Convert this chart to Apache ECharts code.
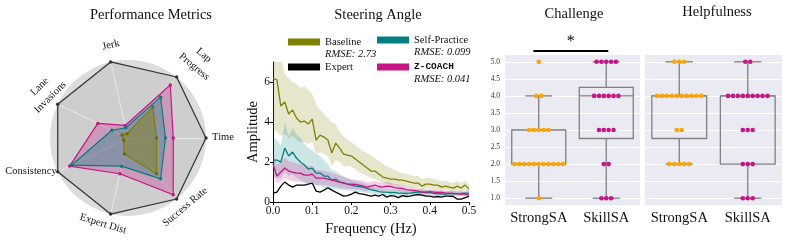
<!DOCTYPE html>
<html><head><meta charset="utf-8">
<script src="https://cdn.jsdelivr.net/npm/echarts@6/dist/echarts.min.js"></script>
<style>html,body{margin:0;padding:0;background:#fff}#c{width:789px;height:242px}</style>
</head><body><div id="c"></div>
<script>
// ---------- Radar data ----------
const radarAxes = ['Time','Lap Progress','Jerk','Lane Invasions','Consistency','Expert Dist','Success Rate'];
const radarOutline = [1,1,1,1,1,1,1];
const radarZcoach = [0.58,0.87,0.165,0.43,0.83,0.47,0.93];
const radarSelf   = [0.48,0.67,0.135,0.23,0.80,0.37,0.67];
const radarBase   = [0.365,0.51,0.056,0.085,0.063,0.21,0.585];

// ---------- Steering angle spectrum ----------
const freq = [0,0.01,0.02,0.03,0.04,0.05,0.06,0.07,0.08,0.09,0.1,0.11,0.12,0.13,0.14,0.15,0.16,0.17,0.18,0.19,0.2,0.21,0.22,0.23,0.24,0.25,0.26,0.27,0.28,0.29,0.3,0.31,0.32,0.33,0.34,0.35,0.36,0.37,0.38,0.39,0.4,0.41,0.42,0.43,0.44,0.45,0.46,0.47,0.48,0.49,0.5];
const baseMean = [6.2,6.1,4.8,5.0,4.4,4.6,4.2,4.0,4.05,3.9,4.15,3.1,3.35,3.25,3.1,2.45,2.95,2.7,2.4,2.35,2.3,2.15,2.0,1.85,1.7,1.55,1.55,1.4,1.25,1.2,1.15,1.15,1.1,1.1,1.05,1.0,0.95,0.95,0.8,0.9,0.9,0.85,0.85,0.75,0.8,0.75,0.7,0.8,0.7,0.85,0.65];
const baseHi = [7.8,7.5,7.2,6.4,6.2,6.0,5.9,5.7,5.8,5.6,5.4,4.9,4.6,4.4,4.2,4.0,3.9,3.5,3.3,3.1,3.0,2.85,2.7,2.55,2.45,2.3,2.2,2.05,1.9,1.8,1.7,1.6,1.5,1.45,1.4,1.35,1.3,1.3,1.15,1.2,1.2,1.15,1.1,1.05,1.05,1.0,0.95,1.05,0.95,1.05,0.9];
const baseLo = [3.6,3.5,3.3,3.4,3.2,3.3,3.1,3.0,3.0,2.9,3.0,2.4,2.5,2.4,2.3,1.8,2.1,2.0,1.8,1.8,1.75,1.65,1.5,1.4,1.3,1.2,1.15,1.05,0.95,0.9,0.85,0.85,0.8,0.8,0.78,0.75,0.7,0.7,0.6,0.68,0.68,0.62,0.62,0.55,0.6,0.55,0.5,0.58,0.5,0.62,0.45];
const selfMean = [2.1,2.1,2.0,2.7,2.3,2.5,2.2,2.0,1.85,1.65,1.7,1.45,1.45,1.3,1.3,1.1,1.15,1.0,0.97,0.9,0.85,0.8,0.78,0.75,0.68,0.62,0.58,0.52,0.5,0.5,0.48,0.48,0.45,0.45,0.43,0.45,0.48,0.5,0.5,0.48,0.48,0.43,0.42,0.4,0.4,0.42,0.43,0.42,0.43,0.45,0.45];
const selfHi = [3.2,3.1,2.8,4.0,3.3,3.7,3.4,3.2,2.9,2.7,2.6,2.4,2.3,2.1,1.9,1.6,1.55,1.4,1.3,1.2,1.1,1.05,1.0,0.95,0.88,0.8,0.75,0.7,0.68,0.66,0.64,0.62,0.6,0.6,0.58,0.6,0.62,0.64,0.64,0.62,0.62,0.57,0.56,0.54,0.54,0.55,0.56,0.55,0.56,0.58,0.58];
const selfLo = [1.3,1.2,1.2,1.5,1.3,1.4,1.2,1.1,1.0,0.9,0.95,0.8,0.8,0.7,0.72,0.6,0.65,0.6,0.6,0.58,0.55,0.5,0.5,0.5,0.45,0.42,0.4,0.36,0.34,0.34,0.33,0.33,0.31,0.31,0.3,0.31,0.34,0.36,0.36,0.34,0.34,0.3,0.29,0.27,0.27,0.29,0.3,0.29,0.3,0.32,0.32];
const zMean = [1.9,1.3,1.5,1.7,1.55,1.5,1.45,1.45,1.35,1.35,1.4,1.2,1.2,1.2,1.15,1.1,1.05,1.0,0.95,0.9,0.9,0.88,0.85,0.8,0.75,0.8,0.85,0.78,0.75,0.8,0.78,0.72,0.7,0.68,0.62,0.6,0.58,0.55,0.5,0.5,0.52,0.5,0.48,0.48,0.45,0.45,0.42,0.42,0.4,0.4,0.35];
const zHi = [2.4,1.85,2.0,2.2,2.05,2.0,1.95,1.9,1.8,1.8,1.8,1.6,1.6,1.55,1.5,1.45,1.4,1.3,1.25,1.2,1.15,1.12,1.1,1.05,1.0,1.02,1.05,1.0,0.95,1.0,0.97,0.9,0.88,0.84,0.78,0.75,0.72,0.68,0.63,0.62,0.64,0.62,0.6,0.59,0.56,0.56,0.53,0.53,0.5,0.5,0.45];
const zLo = [1.4,0.9,1.05,1.2,1.1,1.05,1.0,1.0,0.95,0.95,1.0,0.85,0.85,0.85,0.82,0.78,0.75,0.72,0.68,0.65,0.65,0.64,0.62,0.58,0.54,0.6,0.65,0.58,0.56,0.6,0.59,0.54,0.52,0.52,0.47,0.46,0.44,0.42,0.38,0.38,0.4,0.38,0.37,0.37,0.34,0.34,0.32,0.32,0.3,0.3,0.26];
const expertMean = [0.45,0.5,0.8,1.0,0.85,0.75,0.85,0.85,0.85,0.9,0.95,0.55,0.5,0.6,0.72,0.6,0.5,0.4,0.3,0.32,0.4,0.5,0.42,0.4,0.35,0.3,0.35,0.3,0.38,0.25,0.32,0.3,0.22,0.32,0.28,0.3,0.35,0.38,0.35,0.3,0.3,0.25,0.28,0.25,0.3,0.3,0.28,0.15,0.15,0.22,0.28];
const rmse = {'Baseline':'2.73','Self-Practice':'0.099','Z-COACH':'0.041'};
const xTicks = [0,0.1,0.2,0.3,0.4,0.5];
const yTicks = [0,2,4,6];

// ---------- Survey ratings ----------
const groups = ['StrongSA','SkillSA'];
const challengeStrong = [5,4,4,3,3,3,3,3,2,2,2,2,2,2,2,2,2,2,2,1];
const challengeSkill  = [5,5,5,5,5,4,4,4,4,4,4,3,3,3,3,2,2,1,1,1];
const helpStrong = [5,5,5,4,4,4,4,4,4,4,4,4,4,3,3,2,2,2,2,2];
const helpSkill  = [5,5,4,4,4,4,4,4,4,4,4,3,3,3,2,2,2,1,1,1];
// box stats: [whisker low, Q1, median, Q3, whisker high]
const challengeBox = [[1,2,2,3,4],[1,2.75,4,4.25,5]];
const helpBox = [[2,2.75,4,4,5],[1,2,4,4,5]];
const ratingTicks = [1,1.5,2,2.5,3,3.5,4,4.5,5];

// ---------- styling ----------
const SERIF = "'Liberation Serif','DejaVu Serif',serif";
const OLIVE = '#808000', TEAL = '#008080', PINK = '#C71585', ORANGE = '#FFA500';
const TXT = '#111';

function bandSeries(lo, hi, color) {
  return {type:'custom', xAxisIndex:0, yAxisIndex:0, clip:true, silent:true, z:1,
    data: freq.map((f,i)=>[f, lo[i], hi[i]]),
    encode:{x:0, y:[1,2]},
    renderItem:(params, api)=>{
      if (params.dataIndex !== 0) return null;
      const pts=[];
      for (let i=0;i<freq.length;i++) pts.push(api.coord([freq[i], hi[i]]));
      for (let i=freq.length-1;i>=0;i--) pts.push(api.coord([freq[i], lo[i]]));
      return {type:'polygon', shape:{points:pts}, style:{fill:color}};
    }};
}
function lineSeries(name, arr, color) {
  return {type:'line', name, xAxisIndex:0, yAxisIndex:0, z:3, showSymbol:false, symbol:'none', silent:true,
    data: freq.map((f,i)=>[f, arr[i]]), lineStyle:{color, width:1.3}, itemStyle:{color}};
}
function boxSeries(xi, yi, stats) {
  return {type:'custom', xAxisIndex:xi, yAxisIndex:yi, clip:false, silent:true, z:2,
    data: stats.map((s,i)=>[i].concat(s)),
    encode:{x:0, y:[1,2,3,4,5]},
    renderItem:(params, api)=>{
      const x = api.value(0);
      const p = k => api.coord([x, api.value(k)]);
      const lo=p(1), q1=p(2), med=p(3), q3=p(4), hi=p(5);
      const bw = api.size([0.8,0])[0], cw = bw/2;
      const st = {stroke:'#808080', lineWidth:1.3, fill:null};
      return {type:'group', children:[
        {type:'rect', shape:{x:q1[0]-bw/2, y:q3[1], width:bw, height:q1[1]-q3[1]}, style:st},
        {type:'line', shape:{x1:med[0]-bw/2, y1:med[1], x2:med[0]+bw/2, y2:med[1]}, style:st},
        {type:'line', shape:{x1:lo[0], y1:lo[1], x2:q1[0], y2:q1[1]}, style:st},
        {type:'line', shape:{x1:q3[0], y1:q3[1], x2:hi[0], y2:hi[1]}, style:st},
        {type:'line', shape:{x1:lo[0]-cw/2, y1:lo[1], x2:lo[0]+cw/2, y2:lo[1]}, style:st},
        {type:'line', shape:{x1:hi[0]-cw/2, y1:hi[1], x2:hi[0]+cw/2, y2:hi[1]}, style:st}
      ]};
    }};
}
function swarm(values, idx) {
  const counts = {};
  values.forEach(v=>{counts[v]=(counts[v]||0)+1;});
  const out=[];
  Object.keys(counts).forEach(k=>{
    const n=counts[k];
    for (let j=0;j<n;j++) out.push([idx + (j-(n-1)/2)*0.072, Number(k)]);
  });
  return out;
}
function scatterSeries(xi, yi, values, idx, color) {
  return {type:'scatter', xAxisIndex:xi, yAxisIndex:yi, z:4, silent:true, symbolSize:4.6,
    data: swarm(values, idx), itemStyle:{color, opacity:1}};
}

const legendBase = {orient:'vertical', padding:0, itemWidth:32, itemHeight:7, icon:'rect', selectedMode:false,
  textStyle:{fontFamily:SERIF, fontSize:10.5, color:TXT, lineHeight:12,
    rich:{r:{fontFamily:SERIF, fontStyle:'italic', fontSize:10.5, lineHeight:12, color:TXT},
          z:{fontFamily:"'Liberation Mono','DejaVu Sans Mono',monospace", fontWeight:'bold', fontSize:9.5, lineHeight:12, color:TXT}}},
  formatter: name => {
    const head = name === 'Z-COACH' ? '{z|Z-COACH}' : name;
    return rmse[name] ? head + '\n{r|RMSE: ' + rmse[name] + '}' : head;
  }};
function legendAt(name, left, top, twoLine) {
  const l = JSON.parse(JSON.stringify(legendBase));
  l.formatter = legendBase.formatter;
  l.data = [name]; l.left = left; l.top = top;
  if (twoLine) l.textStyle.padding = [12,0,0,0];
  return l;
}

const boxY = (show) => ({min:0.8, max:5.2, type:'value',
  axisLine:{show:false}, axisTick:{show:false, customValues:ratingTicks},
  axisLabel:{show, customValues:ratingTicks, formatter:v=>v.toFixed(1), fontFamily:SERIF, fontSize:7.5, color:'#333', margin:5},
  splitLine:{show:true, lineStyle:{color:'#ffffff', width:1}}});
const catX = (gi) => ({type:'category', gridIndex:gi, data:groups, axisLine:{show:false}, axisTick:{show:false},
  axisLabel:{interval:0, hideOverlap:false, fontFamily:SERIF, fontSize:14.5, color:TXT, margin:6}});
const valX = (gi) => ({type:'value', gridIndex:gi, min:-0.5, max:1.5, show:false});

const option = {
  animation:false,
  backgroundColor:'#ffffff',
  title:[
    {text:'Performance Metrics', left:146, top:3, textAlign:'center', textStyle:{fontFamily:SERIF, fontSize:14.5, fontWeight:'normal', color:TXT}},
    {text:'Steering Angle', left:373, top:3, textAlign:'center', textStyle:{fontFamily:SERIF, fontSize:14.5, fontWeight:'normal', color:TXT}},
    {text:'Challenge', left:569, top:2, textAlign:'center', textStyle:{fontFamily:SERIF, fontSize:14.5, fontWeight:'normal', color:TXT}},
    {text:'Helpfulness', left:712, top:0, textAlign:'center', textStyle:{fontFamily:SERIF, fontSize:14.5, fontWeight:'normal', color:TXT}}
  ],
  legend:[
    legendAt('Baseline', 288, 24, true),
    legendAt('Expert', 288, 61, false),
    legendAt('Self-Practice', 377, 22, true),
    legendAt('Z-COACH', 377, 49, true)
  ],
  radar:{center:[128,138], radius:78, startAngle:0, splitNumber:1, shape:'circle',
    indicator: radarAxes.map(n=>({name:n, min:0, max:1})),
    axisName:{show:false},
    axisLine:{lineStyle:{color:'#f7f7f7', width:1}},
    splitLine:{show:false},
    splitArea:{show:true, areaStyle:{color:['#dcdcdc']}}},
  grid:[
    {left:273, top:62, width:196, height:145},
    {left:505, top:55, width:135, height:150, show:true, backgroundColor:'#eaeaf2', borderWidth:0},
    {left:645, top:55, width:137, height:150, show:true, backgroundColor:'#eaeaf2', borderWidth:0}
  ],
  xAxis:[
    {type:'value', gridIndex:0, min:0, max:0.5, interval:0.1,
      axisLine:{lineStyle:{color:'#000', width:1}}, axisTick:{length:3, lineStyle:{color:'#000'}},
      axisLabel:{formatter:v=>v.toFixed(1), fontFamily:SERIF, fontSize:11.5, color:TXT, margin:3},
      splitLine:{show:false},
      name:'Frequency (Hz)', nameLocation:'middle', nameGap:15, nameTextStyle:{fontFamily:SERIF, fontSize:14.5, color:TXT}},
    catX(1), valX(1), catX(2), valX(2)
  ],
  yAxis:[
    {type:'value', gridIndex:0, min:0, max:7,
      axisLine:{show:true, lineStyle:{color:'#000', width:1}}, axisTick:{show:true, length:3, customValues:yTicks, lineStyle:{color:'#000'}},
      axisLabel:{customValues:yTicks, fontFamily:SERIF, fontSize:11.5, color:TXT, margin:3},
      splitLine:{show:false},
      name:'Amplitude', nameLocation:'middle', nameGap:9, nameTextStyle:{fontFamily:SERIF, fontSize:14.5, color:TXT}},
    Object.assign(boxY(true), {gridIndex:1}),
    Object.assign(boxY(false), {gridIndex:2})
  ],
  graphic:[
    {type:'text', x:223, y:137, rotation:0, style:{text:'Time'}},
    {type:'text', x:199, y:61, rotation:-40*Math.PI/180, style:{text:'Lap\nProgress'}},
    {type:'text', x:111, y:45, rotation:13*Math.PI/180, style:{text:'Jerk'}},
    {type:'text', x:45, y:92, rotation:45*Math.PI/180, style:{text:'Lane\nInvasions'}},
    {type:'text', x:31, y:171, rotation:0, style:{text:'Consistency'}},
    {type:'text', x:103, y:224, rotation:-17*Math.PI/180, style:{text:'Expert Dist'}},
    {type:'text', x:185, y:207, rotation:40*Math.PI/180, style:{text:'Success Rate'}}
  ].map(g=>{g.style = Object.assign({fontFamily:SERIF, fontSize:10.5, fill:TXT, align:'center', verticalAlign:'middle', lineHeight:15}, g.style); g.silent=true; return g;}),
  series:[
    {type:'radar', radarIndex:0, symbol:'circle', symbolSize:3.5, silent:true,
      data:[
        {name:'outline', value:radarOutline, lineStyle:{color:'#333', width:1.2}, itemStyle:{color:'#333'}, areaStyle:{color:'rgba(0,0,0,0.09)'}},
        {name:'rZ', value:radarZcoach, lineStyle:{color:PINK, width:1.2}, itemStyle:{color:PINK}, areaStyle:{color:'rgba(199,21,133,0.4)'}},
        {name:'rS', value:radarSelf, lineStyle:{color:TEAL, width:1.2}, itemStyle:{color:TEAL}, areaStyle:{color:'rgba(0,128,128,0.45)'}},
        {name:'rB', value:radarBase, lineStyle:{color:OLIVE, width:1.2}, itemStyle:{color:'#6b6b10'}, areaStyle:{color:'rgba(128,128,0,0.6)'}}
      ]},
    bandSeries(baseLo, baseHi, 'rgba(128,128,0,0.2)'),
    bandSeries(selfLo, selfHi, 'rgba(0,128,128,0.2)'),
    bandSeries(zLo, zHi, 'rgba(199,21,133,0.2)'),
    lineSeries('Baseline', baseMean, OLIVE),
    lineSeries('Self-Practice', selfMean, TEAL),
    lineSeries('Expert', expertMean, '#000'),
    lineSeries('Z-COACH', zMean, PINK),
    boxSeries(2, 1, challengeBox),
    boxSeries(4, 2, helpBox),
    scatterSeries(2, 1, challengeStrong, 0, ORANGE),
    scatterSeries(2, 1, challengeSkill, 1, PINK),
    scatterSeries(4, 2, helpStrong, 0, ORANGE),
    scatterSeries(4, 2, helpSkill, 1, PINK),
    {type:'custom', xAxisIndex:2, yAxisIndex:1, clip:false, silent:true, z:5,
      data:[[-0.08, 1.03, 5.32, 5.6]],
      renderItem:(params, api)=>{
        const a = api.coord([api.value(0), api.value(2)]);
        const b = api.coord([api.value(1), api.value(2)]);
        const s = api.coord([(api.value(0)+api.value(1))/2, api.value(3)]);
        return {type:'group', children:[
          {type:'line', shape:{x1:a[0], y1:a[1], x2:b[0], y2:b[1]}, style:{stroke:'#000', lineWidth:2}},
          {type:'text', x:s[0], y:s[1], style:{text:'*', fontFamily:SERIF, fontSize:16, fill:'#000', align:'center', verticalAlign:'middle'}}
        ]};
      }}
  ]
};
const chart = echarts.init(document.getElementById('c'), null, {renderer:'canvas'});
chart.setOption(option);
</script></body></html>
